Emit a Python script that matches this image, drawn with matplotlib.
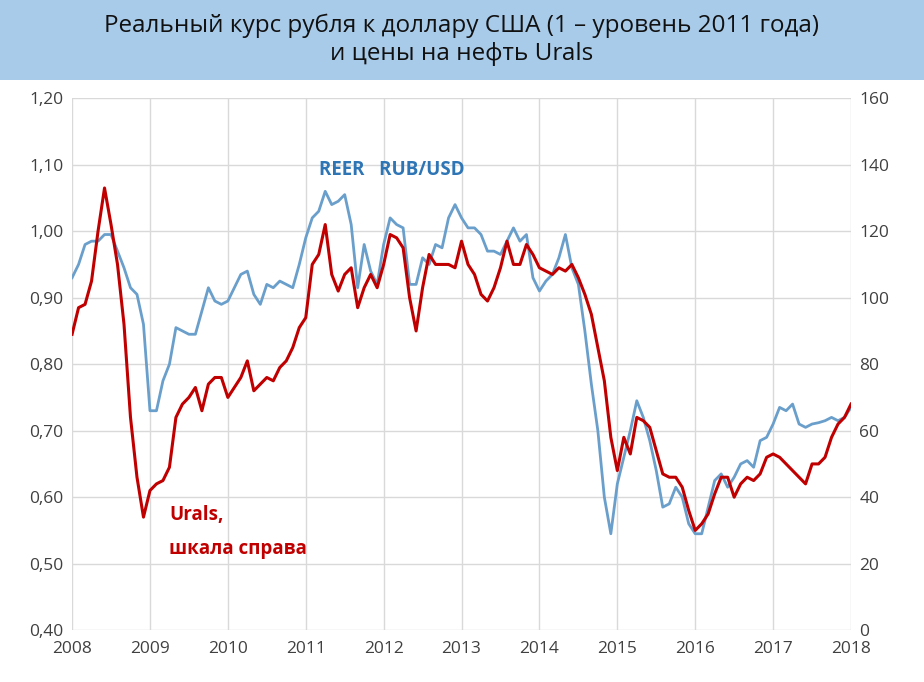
import numpy as np
import matplotlib.pyplot as plt
from matplotlib.ticker import FuncFormatter

# monthly values, Jan 2008 .. Jan 2018
reer = [0.93, 0.95, 0.98, 0.985, 0.985, 0.995, 0.995, 0.97, 0.945, 0.915, 0.905, 0.86,
        0.73, 0.73, 0.775, 0.80, 0.855, 0.85, 0.845, 0.845, 0.88, 0.915, 0.895, 0.89,
        0.895, 0.915, 0.935, 0.94, 0.905, 0.89, 0.92, 0.915, 0.925, 0.92, 0.915, 0.95,
        0.99, 1.02, 1.03, 1.06, 1.04, 1.045, 1.055, 1.01, 0.915, 0.98, 0.94, 0.92,
        0.98, 1.02, 1.01, 1.005, 0.92, 0.92, 0.96, 0.95, 0.98, 0.975, 1.02, 1.04,
        1.02, 1.005, 1.005, 0.995, 0.97, 0.97, 0.965, 0.985, 1.005, 0.985, 0.995, 0.93,
        0.91, 0.925, 0.935, 0.96, 0.995, 0.945, 0.92, 0.85, 0.77, 0.70, 0.60, 0.545,
        0.62, 0.66, 0.70, 0.745, 0.72, 0.685, 0.64, 0.585, 0.59, 0.615, 0.60, 0.56,
        0.545, 0.545, 0.585, 0.625, 0.635, 0.615, 0.63, 0.65, 0.655, 0.645, 0.685, 0.69,
        0.71, 0.735, 0.73, 0.74, 0.71, 0.705, 0.71, 0.712, 0.715, 0.72, 0.715, 0.72,
        0.735]
urals = [89, 97, 98, 105, 120, 133, 122, 110, 92, 64, 46, 34,
         42, 44, 45, 49, 64, 68, 70, 73, 66, 74, 76, 76,
         70, 73, 76, 81, 72, 74, 76, 75, 79, 81, 85, 91,
         94, 110, 113, 122, 107, 102, 107, 109, 97, 103, 107, 103,
         110, 119, 118, 115, 100, 90, 103, 113, 110, 110, 110, 109,
         117, 110, 107, 101, 99, 103, 109, 117, 110, 110, 116, 113,
         109, 108, 107, 109, 108, 110, 106, 101, 95, 85, 75, 58,
         48, 58, 53, 64, 63, 61, 54, 47, 46, 46, 43, 36,
         30, 32, 35, 41, 46, 46, 40, 44, 46, 45, 47, 52,
         53, 52, 50, 48, 46, 44, 50, 50, 52, 58, 62, 64,
         68]
years = list(range(2008, 2019))
t = 2008 + np.arange(len(reer)) / 12

plt.rcParams["font.family"] = "Open Sans"
fig = plt.figure(figsize=(9.24, 6.82), dpi=100)

# title band
tax = fig.add_axes([0, 0.883, 1, 0.117])
tax.set_facecolor("#a9cbea")
tax.set_xticks([]); tax.set_yticks([])
for s in tax.spines.values():
    s.set_visible(False)
tax.text(0.5, 0.5, "Реальный курс рубля к доллару США (1 – уровень 2011 года)\nи цены на нефть Urals",
         ha="center", va="center", fontsize=17.5, linespacing=1.25, color="#111111")

ax = fig.add_axes([0.078, 0.076, 0.843, 0.78])
ax2 = ax.twinx()
ax.plot(t, reer, color="#6a9fcb", lw=2)
ax2.plot(t, urals, color="#c00000", lw=2.2)
ax.set_xlim(2008, 2018)
ax.set_ylim(0.4, 1.2)
ax2.set_ylim(0, 160)
ax.set_xticks(years)
ax.set_yticks(np.arange(0.4, 1.21, 0.1))
ax2.set_yticks(range(0, 161, 20))
ax.yaxis.set_major_formatter(FuncFormatter(lambda v, p: f"{v:.2f}".replace(".", ",")))
ax.grid(True, color="#d9d9d9", lw=1)
for a in (ax, ax2):
    for s in a.spines.values():
        s.set_visible(False)
    a.tick_params(length=0, labelsize=12.5, colors="#404040", pad=6)
ax.tick_params(axis="x", pad=8)

ax.text(2012.1, 1.085, "REER   RUB/USD", color="#2e75b6", fontsize=13.5, fontweight="bold", ha="center")
ax.text(2009.25, 0.565, "Urals,", color="#c00000", fontsize=13.5, fontweight="bold")
ax.text(2009.25, 0.515, "шкала справа", color="#c00000", fontsize=13.5, fontweight="bold")

fig.savefig("out.png", dpi=100)
